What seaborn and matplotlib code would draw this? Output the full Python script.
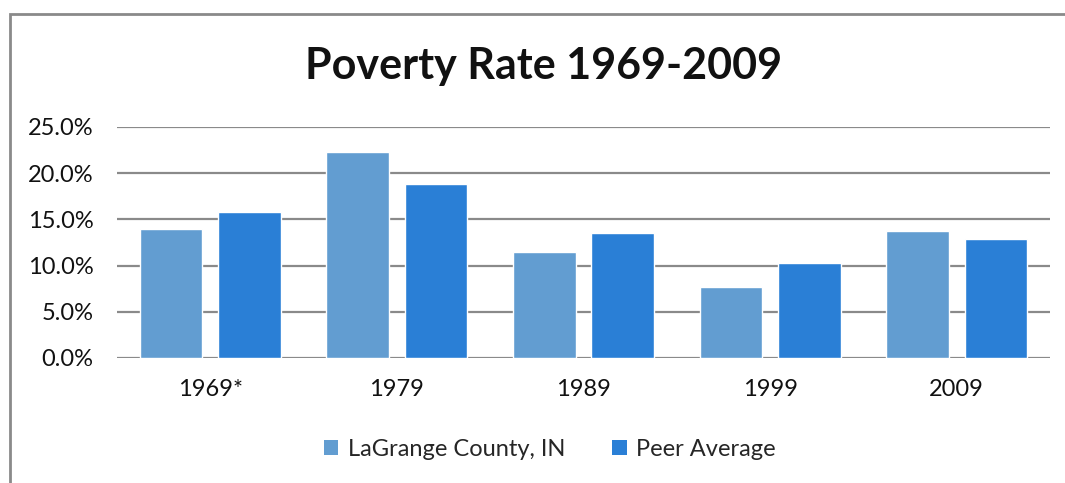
import matplotlib
matplotlib.use("Agg")
import matplotlib.pyplot as plt
import matplotlib.patches as mpatches
from matplotlib.ticker import FuncFormatter, MultipleLocator
import seaborn as sns
import pandas as pd

years = ["1969*", "1979", "1989", "1999", "2009"]
lagrange = [0.140, 0.223, 0.115, 0.077, 0.137]
peer = [0.158, 0.188, 0.135, 0.103, 0.129]
series_names = ["LaGrange County, IN", "Peer Average"]
colors = ["#629DD1", "#2A7FD6"]

df = pd.DataFrame({
    "Year": years * 2,
    "Rate": lagrange + peer,
    "Series": [series_names[0]] * len(years) + [series_names[1]] * len(years),
})

sns.set_style("white")
plt.rcParams["font.family"] = ["Lato", "DejaVu Sans"]

fig = plt.figure(figsize=(10.65, 4.83), dpi=100)
ax = fig.add_axes([117 / 1065, 1 - 358 / 483, (1050 - 117) / 1065, (358 - 127) / 483])

sns.barplot(data=df, x="Year", y="Rate", hue="Series", palette=colors,
            width=0.84, gap=0.2, ax=ax, saturation=1, legend=False, zorder=3)

ax.set_ylim(0, 0.25)
ax.set_xlim(-0.5, len(years) - 0.5)
ax.yaxis.set_major_locator(MultipleLocator(0.05))
ax.yaxis.set_major_formatter(FuncFormatter(lambda v, p: f"{v * 100:.1f}%"))
ax.grid(axis="y", color="#8A8A8A", linewidth=1.6, zorder=0)
ax.set_axisbelow(True)
for s in ax.spines.values():
    s.set_visible(False)
ax.set_xlabel("")
ax.set_ylabel("")
ax.tick_params(axis="y", length=0, pad=17, labelsize=17, labelcolor="#111111")
ax.tick_params(axis="x", length=0, pad=15, labelsize=17, labelcolor="#111111")

fig.text(544 / 1065, 1 - 66 / 483, "Poverty Rate 1969-2009", ha="center", va="center",
         fontsize=31, fontweight="bold", color="#111111")

handles = [mpatches.Patch(facecolor=c, edgecolor="none") for c in colors]
fig.legend(handles, series_names, loc="center", bbox_to_anchor=(550 / 1065, 1 - 449 / 483),
           ncol=2, frameon=False, fontsize=17, handlelength=0.6, handleheight=0.6,
           handletextpad=0.4, columnspacing=2.0)

border = mpatches.Rectangle((10 / 1065, -0.05), 1.2, 1 - 14 / 483 + 0.05,
                            transform=fig.transFigure, fill=False,
                            edgecolor="#8A8A8A", linewidth=2, clip_on=False)
fig.patches.append(border)

fig.savefig("out.png", dpi=100)
